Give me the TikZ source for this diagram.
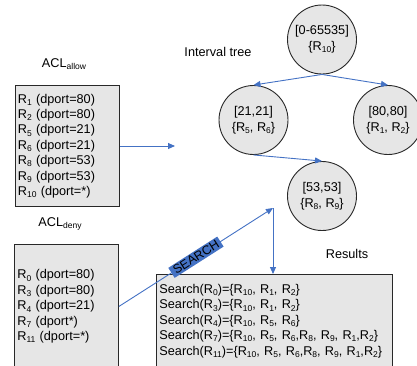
\documentclass[tikz,border=0pt]{standalone}
\usepackage{fontspec}
\setmainfont{Liberation Sans}
\usetikzlibrary{arrows.meta}
\definecolor{lnblue}{RGB}{68,114,196}
\definecolor{boxgray}{RGB}{230,230,230}
\definecolor{edgegray}{RGB}{40,40,40}
\newcommand{\sbs}[1]{\raisebox{-0.35ex}{\fontsize{8.5}{8.5}\selectfont #1}}
\tikzset{
  txt/.style={font=\fontsize{12.7}{15.4}\selectfont, inner sep=0pt},
  listbox/.style={draw=edgegray, fill=boxgray, line width=0.9pt, align=left,
    font=\fontsize{12.7}{15.4}\selectfont, inner ysep=0pt},
  treenode/.style={circle, draw=edgegray, fill=boxgray, line width=0.9pt, minimum size=69pt,
    inner sep=0pt, align=center, font=\fontsize{12.7}{15.6}\selectfont},
  conn/.style={draw=lnblue, line width=0.9pt, -{Triangle[length=7pt,width=6pt]}},
  searchlbl/.style={fill=lnblue, text=black, font=\fontsize{12.5}{12.5}\selectfont, inner xsep=3pt, inner ysep=1.5pt}
}
\begin{document}
\begin{tikzpicture}[x=1pt,y=-1pt]
\useasboundingbox (0,0) rectangle (417,365);
% labels
\node[txt] (lallow) at (64,64) {ACL\sbs{allow}};
\node[txt] (ldeny) at (60,224) {ACL\sbs{deny}};
\node[txt] (ltree) at (218,52) {Interval tree};
\node[txt] (lres) at (347,254) {Results};
% boxes
\node[listbox, anchor=north west, text width=99pt, inner xsep=2.5pt, minimum height=121pt] (allow) at (15,85)
 {R\sbs{1} (dport=80)\\R\sbs{2} (dport=80)\\R\sbs{5} (dport=21)\\R\sbs{6} (dport=21)\\R\sbs{8} (dport=53)\\R\sbs{9} (dport=53)\\R\sbs{10} (dport=*)};
\node[listbox, anchor=north west, text width=98pt, inner xsep=3pt, minimum height=124pt] (deny) at (14,244)
 {R\sbs{0} (dport=80)\\R\sbs{3} (dport=80)\\R\sbs{4} (dport=21)\\R\sbs{7} (dport*)\\R\sbs{11} (dport=*)};
\node[listbox, anchor=north west, text width=230pt, inner xsep=3pt, minimum height=93pt] (results) at (156,274)
 {Search(R\sbs{0})=\{R\sbs{10}, R\sbs{1}, R\sbs{2}\}\\
  Search(R\sbs{3})=\{R\sbs{10}, R\sbs{1}, R\sbs{2}\}\\
  Search(R\sbs{4})=\{R\sbs{10}, R\sbs{5}, R\sbs{6}\}\\
  Search(R\sbs{7})=\{R\sbs{10}, R\sbs{5}, R\sbs{6},R\sbs{8}, R\sbs{9}, R\sbs{1},R\sbs{2}\}\\
  Search(R\sbs{11})=\{R\sbs{10}, R\sbs{5}, R\sbs{6},R\sbs{8}, R\sbs{9}, R\sbs{1},R\sbs{2}\}};
% tree
\node[treenode] (root) at (322,39.5) {[0-65535]\\\{R\sbs{10}\}};
\node[treenode] (left) at (253.5,120) {[21,21]\\\{R\sbs{5}, R\sbs{6}\}};
\node[treenode] (right) at (388,120) {[80,80]\\\{R\sbs{1}, R\sbs{2}\}};
\node[treenode] (n53) at (322,196) {[53,53]\\\{R\sbs{8}, R\sbs{9}\}};
% connectors
\coordinate (allowend) at (175,146);
\coordinate (searchpt) at (273,208);
\draw[conn] (allow.east |- allowend) -- (allowend);
\draw[conn] (root.south) -- (left.north);
\draw[conn] (root.south) -- (right.north);
\draw[conn] (left.south) -- (n53.north);
\draw[conn] (deny.east) -- node[searchlbl, sloped, pos=0.5] (slabel) {SEARCH} (searchpt);
\draw[conn] (searchpt) -- (searchpt |- results.north);
\end{tikzpicture}
\end{document}
